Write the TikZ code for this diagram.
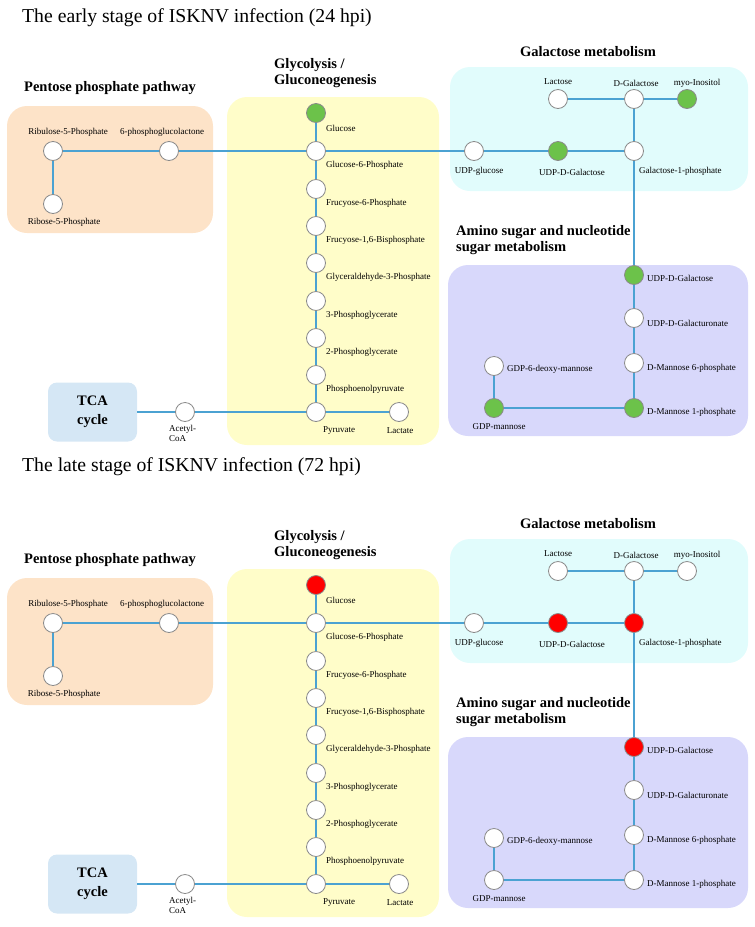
\documentclass[tikz,border=0pt]{standalone}
\usepackage{fontspec}
\setmainfont{Liberation Serif}
\definecolor{peach}{HTML}{FDE3C8}
\definecolor{yell}{HTML}{FFFDC9}
\definecolor{cyanbg}{HTML}{E1FCFC}
\definecolor{lav}{HTML}{D8D8FB}
\definecolor{tcab}{HTML}{D5E7F5}
\definecolor{pathc}{HTML}{4BA2D2}
\definecolor{grn}{HTML}{6CC24A}
\definecolor{rd}{HTML}{FF0000}
\definecolor{ring}{HTML}{8A8A8A}
\tikzset{
 met/.style={circle, draw=ring, line width=0.8pt, fill=white, minimum size=19pt, inner sep=0pt},
 lbl/.style={font=\fontsize{9}{10}\selectfont, inner sep=0pt},
 ttl/.style={font=\fontsize{14.5}{16.5}\selectfont\bfseries, inner sep=0pt, align=left},
 area/.style={rounded corners=20pt, inner sep=0pt, draw=none},
 link/.style={draw=pathc, line width=1.6pt},
 headline/.style={font=\fontsize{19.7}{22}\selectfont, inner sep=0pt, anchor=west},
}
\newcommand\pathpanel[7]{%
 % areas
 \node[area, fill=peach, minimum width=206pt, minimum height=127pt] (pentbox) at (110,169.5) {};
 \node[area, fill=yell, minimum width=212pt, minimum height=348pt] (glybox) at (333,271) {};
 \node[area, fill=cyanbg, minimum width=298pt, minimum height=124pt] (galbox) at (599,129) {};
 \node[area, fill=lav, minimum width=300pt, minimum height=171pt] (amibox) at (598,350.5) {};
 \node[area, rounded corners=9pt, fill=tcab, minimum width=89pt, minimum height=59pt,
   font=\fontsize{14.5}{19}\selectfont\bfseries, align=center] (tca) at (92.5,412) {TCA\\cycle};
 % titles
 \node[ttl] (pentt) at (110,88) {Pentose phosphate pathway};
 \node[ttl, anchor=north west] (glyt) at (274,58) {Glycolysis /\\Gluconeogenesis};
 \node[ttl] (galt) at (588,52) {Galactose metabolism};
 \node[ttl, anchor=north west] (amit) at (456,225) {Amino sugar and nucleotide\\sugar metabolism};
 % metabolites
 \node[met] (rib) at (53,151) {};
 \node[met] (pgl) at (169,151) {};
 \node[met] (r5p) at (53,204) {};
 \node[met, fill=#1] (glc) at (316,113) {};
 \node[met] (g6p) at (316,151) {};
 \node[met] (f6p) at (316,189) {};
 \node[met] (fbp) at (316,226) {};
 \node[met] (gap) at (316,263) {};
 \node[met] (pgc3) at (316,301) {};
 \node[met] (pgc2) at (316,338) {};
 \node[met] (pep) at (316,375) {};
 \node[met] (pyr) at (316,412) {};
 \node[met] (lac) at (399,412) {};
 \node[met] (acoa) at (185,412) {};
 \node[met] (lacto) at (558,99) {};
 \node[met] (dgal) at (634,99) {};
 \node[met, fill=#2] (myo) at (687,99) {};
 \node[met] (udpg) at (474,151) {};
 \node[met, fill=#3] (udpgal) at (558,151) {};
 \node[met, fill=#4] (gal1p) at (634,151) {};
 \node[met, fill=#5] (udpgalb) at (634,275) {};
 \node[met] (udpgalu) at (634,318) {};
 \node[met] (man6p) at (634,363) {};
 \node[met, fill=#6] (man1p) at (634,408) {};
 \node[met] (gdpdm) at (494,366) {};
 \node[met, fill=#7] (gdpm) at (494,408) {};
 % labels
 \node[lbl] (l-rib) at (68,132) {Ribulose-5-Phosphate};
 \node[lbl] (l-pgl) at (162,132) {6-phosphoglucolactone};
 \node[lbl] (l-r5p) at (64,222) {Ribose-5-Phosphate};
 \node[lbl, anchor=west] (l-glc) at (326,128) {Glucose};
 \node[lbl, anchor=west] (l-g6p) at (326,165) {Glucose-6-Phosphate};
 \node[lbl, anchor=west] (l-f6p) at (326,203) {Frucyose-6-Phosphate};
 \node[lbl, anchor=west] (l-fbp) at (326,240) {Frucyose-1,6-Bisphosphate};
 \node[lbl, anchor=west] (l-gap) at (326,277) {Glyceraldehyde-3-Phosphate};
 \node[lbl, anchor=west] (l-pgc3) at (326,315) {3-Phosphoglycerate};
 \node[lbl, anchor=west] (l-pgc2) at (326,352) {2-Phosphoglycerate};
 \node[lbl, anchor=west] (l-pep) at (326,389) {Phosphoenolpyruvate};
 \node[lbl] (l-pyr) at (339,431) {Pyruvate};
 \node[lbl] (l-lac) at (400,431) {Lactate};
 \node[lbl, anchor=north west, align=left, font=\fontsize{9}{10.5}\selectfont] (l-acoa) at (169,425) {Acetyl-\\CoA};
 \node[lbl] (l-lacto) at (558,82) {Lactose};
 \node[lbl] (l-dgal) at (636,83) {D-Galactose};
 \node[lbl] (l-myo) at (697,83) {myo-Inositol};
 \node[lbl] (l-udpg) at (479,171) {UDP-glucose};
 \node[lbl] (l-udpgal) at (572,172) {UDP-D-Galactose};
 \node[lbl, anchor=west] (l-gal1p) at (639,171) {Galactose-1-phosphate};
 \node[lbl, anchor=west] (l-udpgalb) at (647,278) {UDP-D-Galactose};
 \node[lbl, anchor=west] (l-udpgalu) at (647,323) {UDP-D-Galacturonate};
 \node[lbl, anchor=west] (l-man6p) at (647,368) {D-Mannose 6-phosphate};
 \node[lbl, anchor=west] (l-man1p) at (647,412) {D-Mannose 1-phosphate};
 \node[lbl, anchor=west] (l-gdpdm) at (507,369) {GDP-6-deoxy-mannose};
 \node[lbl] (l-gdpm) at (499,427) {GDP-mannose};
 % connectors
 \draw[link] (rib) -- (pgl) -- (g6p) -- (udpg) -- (udpgal) -- (gal1p);
 \draw[link] (rib) -- (r5p);
 \draw[link] (glc) -- (g6p) -- (f6p) -- (fbp) -- (gap) -- (pgc3) -- (pgc2) -- (pep) -- (pyr) -- (lac);
 \draw[link] (tca) -- (acoa) -- (pyr);
 \draw[link] (lacto) -- (dgal) -- (myo);
 \draw[link] (dgal) -- (gal1p) -- (udpgalb) -- (udpgalu) -- (man6p) -- (man1p) -- (gdpm) -- (gdpdm);
}
\begin{document}
\begin{tikzpicture}[x=1pt, y=-1pt]
 \useasboundingbox (0,0) rectangle (755,927);
 \node[headline] (title1) at (22,18) {The early stage of ISKNV infection (24 hpi)};
 \begin{scope}[name prefix=top-]
  \pathpanel{grn}{grn}{grn}{white}{grn}{grn}{grn}
 \end{scope}
 \node[headline] (title2) at (22,467) {The late stage of ISKNV infection (72 hpi)};
 \begin{scope}[yshift=-472pt, name prefix=bot-]
  \pathpanel{rd}{white}{rd}{rd}{rd}{white}{white}
 \end{scope}
\end{tikzpicture}
\end{document}
